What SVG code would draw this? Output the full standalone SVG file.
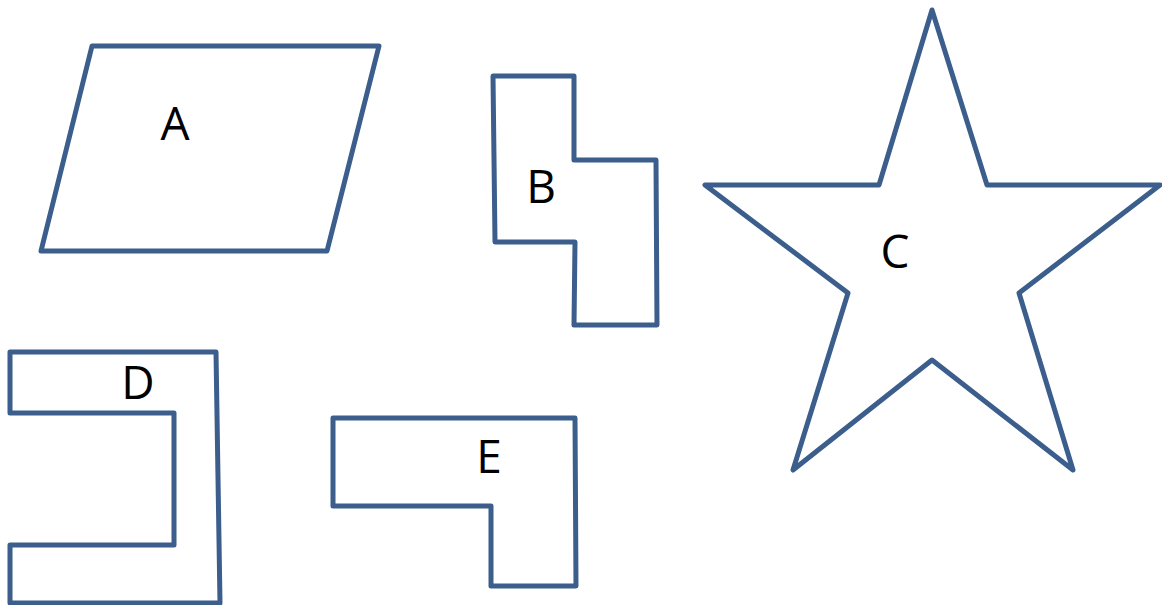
<svg xmlns="http://www.w3.org/2000/svg" width="1162" height="605" viewBox="0 0 1162 605">
<style>
.s{fill:#fff;stroke:#3b5e8c;stroke-width:5;stroke-linejoin:round}
.t{font-family:"Open Sans","Liberation Sans",sans-serif;font-size:46px;fill:#000;text-anchor:middle}
</style>
<rect width="1162" height="605" fill="#fff"/>
<g id="A"><polygon class="s" points="92,46 379,46 327,251 41,251"/><text class="t" x="175" y="140">A</text></g>
<g id="B"><polygon class="s" points="493,76 574,76 574,160 656,160 657,325 574,325 575,242 495,242"/><text class="t" x="541" y="203">B</text></g>
<g id="C"><polygon class="s" points="932,10 987,185 1160,185 1019,293 1073,470 932,360 793,470 848,293 705,185 879,185"/><text class="t" x="895" y="268">C</text></g>
<g id="D"><polygon class="s" points="10,352 216,352 220,603 10,603 10,545 174,545 174,413 10,413"/><text class="t" x="138" y="399">D</text></g>
<g id="E"><polygon class="s" points="333,418 575,418 576,586 491,586 491,506 333,506"/><text class="t" x="489" y="473">E</text></g>
<g id="connectors"></g>
</svg>
